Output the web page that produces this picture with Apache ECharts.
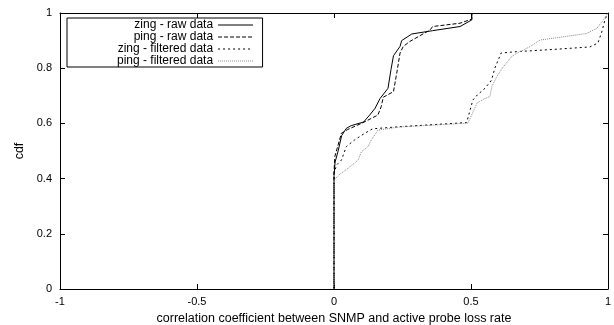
<!DOCTYPE html>
<html><head><meta charset="utf-8">
<script src="https://cdn.jsdelivr.net/npm/echarts@6/dist/echarts.min.js"></script>
<style>html,body{margin:0;padding:0;background:#fff}#c{width:614px;height:325px}</style>
</head><body><div id="c"></div>
<script>
const seriesNames = ['zing - raw data', 'ping - raw data', 'zing - filtered data', 'ping - filtered data'];
const xTicks = [-1, -0.5, 0, 0.5, 1];
const yTicks = [0, 0.2, 0.4, 0.6, 0.8, 1];
const zingRaw = [[0,0],[0,0.41],[0.004,0.46],[0.015,0.50],[0.028,0.556],[0.045,0.582],[0.063,0.592],[0.108,0.605],[0.13,0.63],[0.15,0.655],[0.168,0.69],[0.197,0.727],[0.208,0.795],[0.217,0.845],[0.241,0.879],[0.247,0.90],[0.284,0.924],[0.36,0.936],[0.46,0.951],[0.503,0.975],[0.503,1]];
const pingRaw = [[0,0],[0,0.42],[0.003,0.48],[0.027,0.564],[0.05,0.578],[0.1,0.60],[0.16,0.63],[0.172,0.66],[0.18,0.695],[0.217,0.715],[0.229,0.782],[0.241,0.855],[0.253,0.879],[0.277,0.897],[0.314,0.918],[0.35,0.938],[0.36,0.951],[0.46,0.963],[0.503,0.978],[0.503,1]];
const zingFiltered = [[0,0],[0,0.42],[0.01,0.45],[0.027,0.467],[0.045,0.516],[0.075,0.54],[0.112,0.564],[0.14,0.58],[0.161,0.582],[0.24,0.588],[0.484,0.603],[0.507,0.685],[0.523,0.703],[0.551,0.727],[0.575,0.757],[0.587,0.80],[0.61,0.855],[0.667,0.86],[0.80,0.868],[0.934,0.877],[0.963,0.891],[0.976,0.927],[0.989,0.975],[0.995,0.99],[1,1]];
const pingFiltered = [[0,0],[0,0.395],[0.02,0.415],[0.051,0.437],[0.088,0.467],[0.1,0.497],[0.124,0.516],[0.136,0.54],[0.161,0.576],[0.24,0.587],[0.489,0.601],[0.522,0.674],[0.55,0.69],[0.569,0.697],[0.576,0.733],[0.594,0.769],[0.618,0.805],[0.648,0.842],[0.667,0.854],[0.715,0.878],[0.752,0.902],[0.825,0.912],[0.922,0.926],[0.959,0.944],[0.983,0.975],[0.995,0.993],[1,1]];

const chart = echarts.init(document.getElementById('c'));
const font = 'Liberation Sans, Arial, sans-serif';
const lbl = {color:'#000', fontFamily:font, fontSize:11};
const nameLbl = {color:'#000', fontFamily:font, fontSize:12.5};
function mk(name, data, type, color) {
  return {name, type:'line', data, symbol:'none', showSymbol:false, animation:false,
    lineStyle:{color, width:1, type}, itemStyle:{color}, emphasis:{disabled:true}};
}
const tick = {show:true, inside:true, length:5, lineStyle:{color:'#000', width:1}};
const line = {show:true, onZero:false, lineStyle:{color:'#000', width:1}};
chart.setOption({
  animation:false,
  grid:{left:60, right:6, top:13, bottom:36, containLabel:false, outerBoundsMode:'none'},
  legend:{orient:'vertical', left:67, top:18, align:'right', data:seriesNames,
    borderColor:'#000', borderWidth:1, padding:[1,9,0,50], itemGap:0, itemWidth:35, itemHeight:12,
    itemStyle:{opacity:0}, lineStyle:{width:1},
    textStyle:{color:'#000', fontFamily:font, fontSize:12}, selectedMode:false},
  xAxis:[{type:'value', min:-1, max:1, interval:0.5, name:'correlation coefficient between SNMP and active probe loss rate',
      nameLocation:'middle', nameGap:19, nameTextStyle:nameLbl,
      axisLine:line, axisTick:tick,
      axisLabel:Object.assign({margin:7, formatter:v=>String(v)}, lbl), splitLine:{show:false}},
    {type:'value', min:-1, max:1, interval:0.5, position:'top',
      axisLine:line, axisTick:tick, axisLabel:{show:false}, splitLine:{show:false}}],
  yAxis:[{type:'value', min:0, max:1, interval:0.2, name:'cdf', nameLocation:'middle', nameGap:34, nameTextStyle:nameLbl,
      axisLine:line, axisTick:tick,
      axisLabel:Object.assign({margin:8, formatter:v=>String(v)}, lbl), splitLine:{show:false}},
    {type:'value', min:0, max:1, interval:0.2, position:'right',
      axisLine:line, axisTick:tick, axisLabel:{show:false}, splitLine:{show:false}}],
  series:[
    mk(seriesNames[0], zingRaw, 'solid', '#000'),
    mk(seriesNames[1], pingRaw, [4,2], '#000'),
    mk(seriesNames[2], zingFiltered, [2,3], '#000'),
    mk(seriesNames[3], pingFiltered, [1,1], '#888')
  ]
});
</script></body></html>
